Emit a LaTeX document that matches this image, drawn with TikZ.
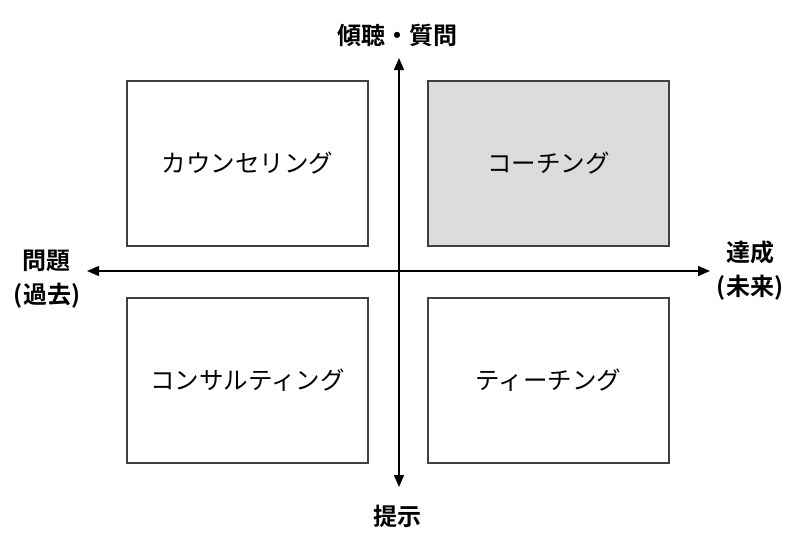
\documentclass[tikz,border=0pt]{standalone}
\usepackage{fontspec}
\setmainfont{Noto Sans CJK JP}
\newfontfamily\jpbold{Noto Sans CJK JP Bold}
\usetikzlibrary{arrows.meta}
\definecolor{boxline}{HTML}{404040}
\definecolor{boxfill}{HTML}{DCDCDC}
\tikzset{
  quad/.style={draw=boxline, line width=1.5pt, minimum width=241pt, minimum height=165pt, inner sep=0pt, font=\fontsize{24.5}{28}\selectfont},
  axis/.style={line width=1.3pt, -{Triangle[length=12pt,width=10pt]}},
  axlabel/.style={font=\jpbold\fontsize{24}{34}\selectfont, align=center, inner sep=0pt},
}
\begin{document}
\begin{tikzpicture}[x=1pt,y=-1pt]
\useasboundingbox (0,0) rectangle (800,536);
\node[quad] (cs) at (247.5,163.5) {カウンセリング};
\node[quad, fill=boxfill] (co) at (548.5,163.5) {コーチング};
\node[quad] (cn) at (247.5,380.5) {コンサルティング};
\node[quad] (te) at (548.5,380.5) {ティーチング};
\coordinate (top) at (399,58);
\coordinate (bot) at (399,487);
\coordinate (lft) at (87,271);
\coordinate (rgt) at (710,271);
\coordinate (ctr) at (399,271);
\draw[axis] (ctr) -- (top);
\draw[axis] (ctr) -- (bot);
\draw[axis] (ctr) -- (lft);
\draw[axis] (ctr) -- (rgt);
\node[axlabel] (lt) at (397,35) {傾聴・質問};
\node[axlabel] (lb) at (397,516) {提示};
\node[axlabel] (ll) at (47,279) {問題\\(過去)};
\node[axlabel] (lr) at (750,271) {達成\\(未来)};
\end{tikzpicture}
\end{document}
